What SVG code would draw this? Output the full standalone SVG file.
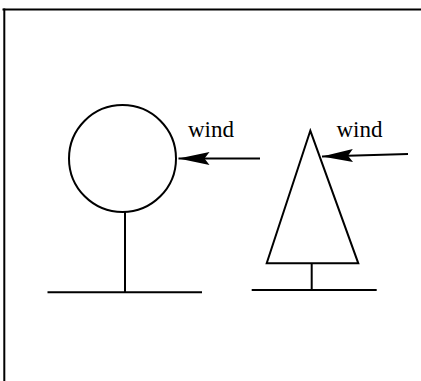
<svg xmlns="http://www.w3.org/2000/svg" width="421" height="381" viewBox="0 0 421 381">
<style>
.ln{stroke:#000;stroke-width:2;fill:none;stroke-linecap:butt}
.lbl{font-family:"Liberation Serif","Times New Roman",serif;font-size:23px;fill:#000}
</style>
<defs>
<marker id="ah" markerUnits="userSpaceOnUse" markerWidth="32" markerHeight="14" refX="31" refY="7" orient="auto">
<path d="M31,7 L0,0.5 L5,7 L0,13.5 Z" fill="#000"/>
</marker>
</defs>
<rect width="421" height="381" fill="#fff"/>
<g id="frame">
<line class="ln" x1="2.5" y1="9.5" x2="421" y2="9.5" stroke-width="2.2"/>
<line class="ln" x1="4.3" y1="8.5" x2="4.3" y2="381" stroke-width="3"/>
</g>
<g id="round-tree">
<circle class="ln" cx="122.5" cy="158.5" r="53.5"/>
<line class="ln" x1="125" y1="212" x2="125" y2="292"/>
<line class="ln" x1="47.5" y1="292.3" x2="202" y2="292.3"/>
</g>
<g id="conical-tree">
<polygon class="ln" points="310.3,130.7 358.3,263.3 266.7,263.3" stroke-linejoin="miter"/>
<line class="ln" x1="311.7" y1="263.3" x2="311.7" y2="290"/>
<line class="ln" x1="251.7" y1="290" x2="376.7" y2="290"/>
</g>
<g id="labels">
<text class="lbl" x="188" y="136.5">wind</text>
<text class="lbl" x="336.5" y="136.5">wind</text>
</g>
<g id="connectors">
<line class="ln" x1="260" y1="158.5" x2="178.5" y2="158.5" marker-end="url(#ah)" stroke-width="1.8"/>
<line class="ln" x1="408" y1="154" x2="322" y2="156.5" marker-end="url(#ah)" stroke-width="1.8"/>
</g>
</svg>
